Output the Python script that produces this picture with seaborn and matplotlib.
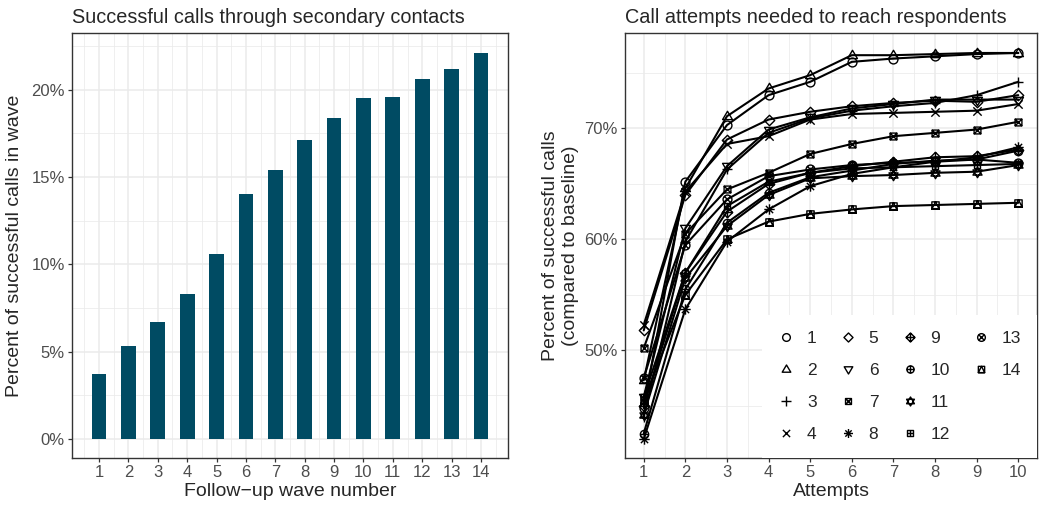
import numpy as np
import pandas as pd
import matplotlib
matplotlib.use("Agg")
import matplotlib.pyplot as plt
from matplotlib.path import Path
from matplotlib.lines import Line2D
from matplotlib.ticker import FuncFormatter, MultipleLocator
import seaborn as sns

# left panel: share of successful calls per follow-up wave (%)
waves = list(range(1, 15))
wave_pct = [3.7, 5.3, 6.7, 8.3, 10.6, 14.0, 15.4, 17.1, 18.4, 19.5, 19.6, 20.6, 21.2, 22.1]

# right panel: cumulative percent of successful calls by attempt, one list per group
attempts = list(range(1, 11))
g1 = [44.8, 65.2, 70.3, 73.0, 74.2, 76.0, 76.3, 76.5, 76.7, 76.8]
g2 = [47.3, 64.6, 71.1, 73.6, 74.8, 76.6, 76.6, 76.7, 76.8, 76.8]
g3 = [44.0, 59.8, 66.3, 69.6, 70.9, 71.6, 72.0, 72.3, 73.0, 74.2]
g4 = [52.3, 64.3, 68.6, 69.3, 70.8, 71.3, 71.4, 71.5, 71.6, 72.2]
g5 = [51.8, 64.0, 69.0, 70.8, 71.5, 72.0, 72.3, 72.5, 72.4, 73.0]
g6 = [45.8, 61.0, 66.6, 69.9, 71.0, 71.8, 72.2, 72.6, 72.6, 72.6]
g7 = [50.2, 60.5, 64.5, 66.0, 67.7, 68.6, 69.3, 69.6, 69.9, 70.6]
g8 = [42.0, 53.7, 59.8, 62.7, 64.8, 65.9, 66.5, 67.0, 67.4, 68.3]
g9 = [45.0, 57.0, 62.5, 65.0, 66.0, 66.6, 67.0, 67.4, 67.5, 68.1]
g10 = [42.5, 55.5, 61.5, 64.2, 65.6, 66.2, 66.8, 67.1, 67.2, 68.0]
g11 = [44.2, 56.5, 61.2, 64.0, 65.5, 65.7, 65.8, 66.0, 66.1, 66.7]
g12 = [45.8, 57.0, 63.0, 65.2, 66.0, 66.4, 66.5, 66.6, 66.7, 66.8]
g13 = [47.5, 59.5, 63.6, 65.7, 66.3, 66.7, 66.9, 67.0, 67.2, 66.9]
g14 = [45.5, 55.0, 60.0, 61.6, 62.3, 62.7, 63.0, 63.1, 63.2, 63.3]
groups = [g1, g2, g3, g4, g5, g6, g7, g8, g9, g10, g11, g12, g13, g14]
group_names = [str(i) for i in range(1, 15)]

rows = []
for name, vals in zip(group_names, groups):
    for a, v in zip(attempts, vals):
        rows.append({"group": name, "attempt": a, "pct": v})
df_lines = pd.DataFrame(rows)
df_bars = pd.DataFrame({"wave": waves, "pct": wave_pct})


# R-like point shapes built as paths (all stroked, no fill)
M, L, C = Path.MOVETO, Path.LINETO, Path.CLOSEPOLY


def poly(pts):
    return list(pts) + [pts[0]], [M] + [L] * (len(pts) - 1) + [C]


def seg(p, q):
    return [p, q], [M, L]


def make(*parts, scale=1.0):
    verts, codes = [], []
    for v, c in parts:
        verts += [(x * scale, y * scale) for x, y in v]
        codes += c
    # dummy moves fix the normalisation box
    verts += [(1, 1), (-1, -1)]
    codes += [M, M]
    return Path(verts, codes)


circ = Path.unit_circle()
circle = (list(circ.vertices), list(circ.codes))
s = 0.82
square = poly([(-s, -s), (s, -s), (s, s), (-s, s)])
diamond = poly([(0, -1), (1, 0), (0, 1), (-1, 0)])
tri_up = poly([(-0.95, -0.6), (0.95, -0.6), (0, 1.0)])
tri_dn = poly([(-0.95, 0.6), (0.95, 0.6), (0, -1.0)])

shapes = {
    "1": make(circle, scale=0.85),
    "2": make(tri_up),
    "3": make(seg((-1, 0), (1, 0)), seg((0, -1), (0, 1))),
    "4": make(seg((-0.8, -0.8), (0.8, 0.8)), seg((-0.8, 0.8), (0.8, -0.8))),
    "5": make(diamond),
    "6": make(tri_dn),
    "7": make(square, seg((-s, -s), (s, s)), seg((-s, s), (s, -s)), scale=0.8),
    "8": make(seg((-1, 0), (1, 0)), seg((0, -1), (0, 1)),
              seg((-0.7, -0.7), (0.7, 0.7)), seg((-0.7, 0.7), (0.7, -0.7))),
    "9": make(diamond, seg((-1, 0), (1, 0)), seg((0, -1), (0, 1))),
    "10": make(circle, seg((-1, 0), (1, 0)), seg((0, -1), (0, 1)), scale=0.8),
    "11": make(poly([(-0.87, -0.5), (0.87, -0.5), (0, 1)]),
               poly([(-0.87, 0.5), (0.87, 0.5), (0, -1)])),
    "12": make(square, seg((-s, 0), (s, 0)), seg((0, -s), (0, s)), scale=0.8),
    "13": make(circle, seg((-0.71, -0.71), (0.71, 0.71)), seg((-0.71, 0.71), (0.71, -0.71)), scale=0.85),
    "14": make(square, poly([(-s, -s), (s, -s), (0, s)]), scale=0.85),
}

sns.set_theme(style="white")
plt.rcParams["font.family"] = ["Liberation Sans", "DejaVu Sans"]

GRID = "#EBEBEB"
FRAME = "#333333"
TICKTXT = "#4D4D4D"

fig = plt.figure(figsize=(10.4, 5.11), dpi=100)
ax1 = fig.add_axes([72 / 1040, 53 / 511, 436 / 1040, 425 / 511])
ax2 = fig.add_axes([625 / 1040, 53 / 511, 412 / 1040, 425 / 511])


def style_axes(ax):
    ax.set_axisbelow(True)
    ax.grid(which="major", color=GRID, lw=1.1)
    ax.grid(which="minor", color=GRID, lw=0.55)
    for sp in ax.spines.values():
        sp.set_visible(True)
        sp.set_color(FRAME)
        sp.set_linewidth(1.0)
    ax.tick_params(which="major", length=3.2, width=0.9, color=FRAME,
                   labelsize=12, labelcolor=TICKTXT, pad=2, left=True, bottom=True)
    ax.tick_params(which="minor", length=0)


# left: bars
sns.barplot(data=df_bars, x="wave", y="pct", native_scale=True, width=0.5,
            color="#004B63", saturation=1, errorbar=None, linewidth=0, ax=ax1)
ax1.set_xlim(0.08, 14.92)
ax1.set_ylim(-1.1, 23.25)
ax1.set_xticks(waves)
ax1.xaxis.set_minor_locator(MultipleLocator(0.5))
ax1.set_yticks([0, 5, 10, 15, 20])
ax1.yaxis.set_minor_locator(MultipleLocator(2.5))
ax1.yaxis.set_major_formatter(FuncFormatter(lambda v, p: f"{v:.0f}%"))
style_axes(ax1)
ax1.set_xlabel("Follow\u2212up wave number", fontsize=14, labelpad=2)
ax1.set_ylabel("Percent of successful calls in wave", fontsize=14, labelpad=6)
ax1.set_title("Successful calls through secondary contacts", loc="left", fontsize=14.3, pad=7)

# right: lines with shapes
sns.lineplot(data=df_lines, x="attempt", y="pct", style="group", style_order=group_names,
             markers=shapes, dashes=False, color="black", errorbar=None, legend=False,
             lw=1.5, ms=7.5, mec="black", mfc="none", mew=1.0, ax=ax2)
ax2.set_xlim(0.55, 10.45)
ax2.set_ylim(40.3, 78.6)
ax2.set_xticks(attempts)
ax2.xaxis.set_minor_locator(MultipleLocator(0.5))
ax2.set_yticks([50, 60, 70])
ax2.yaxis.set_minor_locator(MultipleLocator(5))
ax2.yaxis.set_major_formatter(FuncFormatter(lambda v, p: f"{v:.0f}%"))
style_axes(ax2)
ax2.set_xlabel("Attempts", fontsize=14, labelpad=2)
ax2.set_ylabel("Percent of successful calls\n(compared to baseline)", fontsize=14, labelpad=4)
ax2.set_title("Call attempts needed to reach respondents", loc="left", fontsize=14.3, pad=7)

# legend: 4 rows x 4 columns, column-major, last column has two blanks
handles = [Line2D([], [], marker=shapes[k], ls="none", mfc="none", mec="black",
                  mew=1.0, ms=6.5) for k in group_names]
labels = list(group_names)
for _ in range(2):
    handles.append(Line2D([], [], ls="none", marker=None))
    labels.append("")
leg = ax2.legend(handles, labels, ncol=4, loc="lower right", bbox_to_anchor=(1.0, 0.0),
                 borderaxespad=0.0, frameon=True, facecolor="white", edgecolor="none",
                 framealpha=1, fancybox=False, fontsize=12.5, handlelength=1.0,
                 handletextpad=0.7, columnspacing=1.3, labelspacing=0.98, borderpad=0.9)

fig.savefig("out.png", dpi=100)
